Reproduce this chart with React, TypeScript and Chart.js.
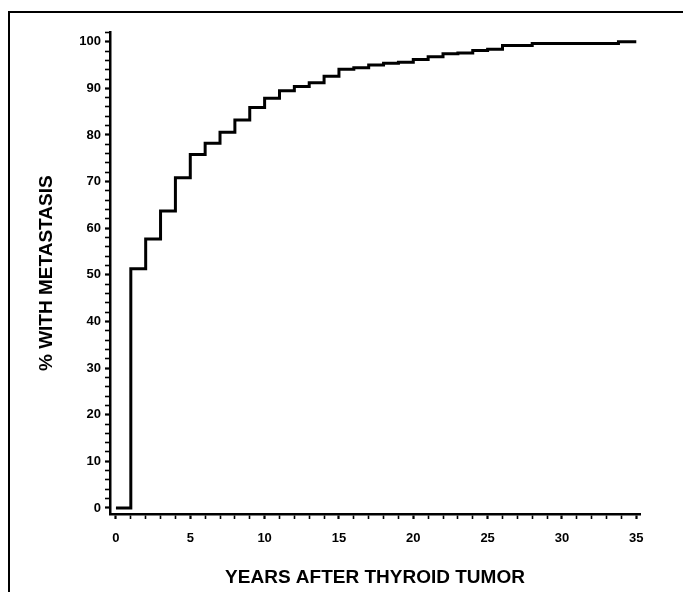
import React, { useEffect, useRef } from 'react';
import { Chart, registerables } from 'chart.js';

Chart.register(...registerables);

// Years after thyroid tumor at which the cumulative % changes
const years = [0, 1, 2, 3, 4, 5, 6, 7, 8, 9, 10, 11, 12, 13, 14, 15, 16, 17, 18, 19, 20, 21, 22, 23, 24, 25, 26, 28, 33.8, 35];
// Cumulative % with metastasis from that year onward
const pctMetastasis = [0, 51.3, 57.7, 63.7, 70.8, 75.8, 78.2, 80.6, 83.2, 85.9, 87.9, 89.5, 90.4, 91.2, 92.6, 94.1, 94.4, 95.0, 95.4, 95.6, 96.2, 96.8, 97.4, 97.6, 98.1, 98.4, 99.2, 99.6, 100.0, 100.0];

const xLabeledTicks = [0, 5, 10, 15, 20, 25, 30, 35];
const yLabeledTicks = [0, 10, 20, 30, 40, 50, 60, 70, 80, 90, 100];

const xTitle = 'YEARS AFTER THYROID TUMOR';
const yTitle = '% WITH METASTASIS';

const FONT = "'Liberation Sans', Arial, Helvetica, sans-serif";

export default function App() {
  const canvasRef = useRef<HTMLCanvasElement | null>(null);

  useEffect(() => {
    const canvas = canvasRef.current;
    if (!canvas) return;
    const chart = new Chart(canvas, {
      type: 'line',
      data: {
        datasets: [
          {
            data: years.map((x, i) => ({ x, y: pctMetastasis[i] })),
            borderColor: '#000',
            borderWidth: 3,
            pointRadius: 0,
            stepped: true,
            fill: false,
            tension: 0,
          },
        ],
      },
      options: {
        animation: false,
        responsive: false,
        devicePixelRatio: 1,
        layout: { padding: { top: 32.4, right: 43, bottom: 0, left: 0 } },
        plugins: { legend: { display: false }, tooltip: { enabled: false } },
        scales: {
          x: {
            type: 'linear',
            min: -0.4,
            max: 35.25,
            afterFit: (s: any) => {
              s.height = 78;
            },
            border: { display: true, color: '#000', width: 2.5 },
            grid: {
              drawOnChartArea: false,
              drawTicks: true,
              tickLength: 5,
              tickColor: '#000',
              tickWidth: (ctx: any) => (ctx.tick && xLabeledTicks.includes(ctx.tick.value) ? 2.2 : 1.6),
            },
            ticks: {
              stepSize: 1,
              autoSkip: false,
              includeBounds: false,
              maxRotation: 0,
              padding: 12,
              color: '#000',
              font: { family: FONT, size: 13, weight: 'bold' },
              callback: (v: any) => (xLabeledTicks.includes(Number(v)) ? String(v) : ''),
            },
            title: {
              display: true,
              text: xTitle,
              color: '#000',
              font: { family: FONT, size: 19, weight: 'bold' },
              padding: { top: 0, bottom: 2.6 },
            },
          },
          y: {
            type: 'linear',
            min: -1.3,
            max: 102,
            afterFit: (s: any) => {
              s.width = 110;
            },
            border: { display: true, color: '#000', width: 2.5 },
            grid: {
              drawOnChartArea: false,
              drawTicks: true,
              tickLength: 5,
              tickColor: '#000',
              tickWidth: (ctx: any) => (ctx.tick && yLabeledTicks.includes(ctx.tick.value) ? 2.2 : 1.6),
            },
            ticks: {
              stepSize: 2,
              autoSkip: false,
              includeBounds: false,
              padding: 4,
              color: '#000',
              font: { family: FONT, size: 13, weight: 'bold' },
              callback: (v: any) => (yLabeledTicks.includes(Number(v)) ? String(v) : ''),
            },
            title: {
              display: true,
              text: yTitle,
              color: '#000',
              font: { family: FONT, size: 19, weight: 'bold' },
              padding: { top: 35.6, bottom: 0 },
            },
          },
        },
      },
    });
    return () => chart.destroy();
  }, []);

  return (
    <>
      <div
        style={{
          position: 'fixed',
          left: 8,
          top: 11,
          width: 720,
          height: 640,
          border: '2.5px solid #000',
          boxSizing: 'border-box',
        }}
      />
      <div style={{ position: 'fixed', left: 0, top: 0, width: 683, height: 592 }}>
        <canvas ref={canvasRef} width={683} height={592} style={{ width: 683, height: 592, display: 'block' }} />
      </div>
    </>
  );
}
